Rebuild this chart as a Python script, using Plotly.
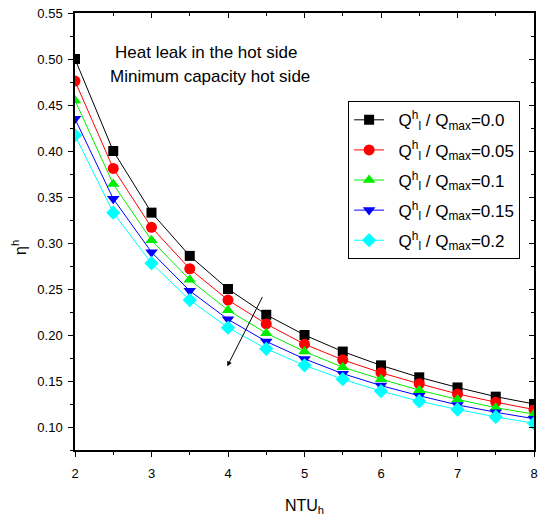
import plotly.graph_objects as go

ntu = [2, 2.5, 3, 3.5, 4, 4.5, 5, 5.5, 6, 6.5, 7, 7.5, 8]
eta_00 = [0.500, 0.400, 0.333, 0.286, 0.250, 0.222, 0.200, 0.182, 0.167, 0.154, 0.143, 0.133, 0.125]
eta_05 = [0.476, 0.381, 0.317, 0.272, 0.238, 0.212, 0.190, 0.173, 0.159, 0.147, 0.136, 0.127, 0.119]
eta_10 = [0.455, 0.364, 0.303, 0.260, 0.227, 0.202, 0.182, 0.165, 0.152, 0.140, 0.130, 0.121, 0.114]
eta_15 = [0.435, 0.348, 0.290, 0.248, 0.217, 0.193, 0.174, 0.158, 0.145, 0.134, 0.124, 0.116, 0.109]
eta_20 = [0.417, 0.333, 0.278, 0.238, 0.208, 0.185, 0.167, 0.152, 0.139, 0.128, 0.119, 0.111, 0.104]
ratios = ["0.0", "0.05", "0.1", "0.15", "0.2"]

series = [eta_00, eta_05, eta_10, eta_15, eta_20]
colors = ["#000000", "#ff0000", "#00ee00", "#0000ff", "#00ffff"]
symbols = ["square", "circle", "triangle-up", "triangle-down", "diamond"]
sizes = [10, 11, 11, 11, 11]

NB = "\u00a0"

fig = go.Figure()
for i, (vals, r, c, s, sz) in enumerate(zip(series, ratios, colors, symbols, sizes)):
    fig.add_trace(go.Scatter(
        x=ntu, y=vals, mode="lines+markers",
        name=NB * 2 + "Q<sup>h</sup><sub>l</sub> / Q<sub>max</sub>=" + r,
        legendgroup="g%d" % i,
        line=dict(color=c, width=1),
        marker=dict(symbol=s, size=sz, color=c, line=dict(width=0)),
    ))

# mirrored axes with inward ticks
fig.add_trace(go.Scatter(x=[None], y=[None], xaxis="x2", yaxis="y2",
                         showlegend=False, hoverinfo="skip"))

fam = "Liberation Sans, Arial, sans-serif"
font = dict(family=fam, size=13, color="#000000")

fig.update_layout(
    width=538, height=516,
    margin=dict(l=75, r=4, t=13, b=66),
    plot_bgcolor="white", paper_bgcolor="white",
    font=font,
    showlegend=True,
    legend=dict(
        x=0.595, y=0.798, xanchor="left", yanchor="top",
        bordercolor="#000000", borderwidth=1, bgcolor="white",
        font=dict(family=fam, size=17, color="#000000"),
        tracegroupgap=5, itemwidth=30,
    ),
    xaxis=dict(
        range=[2, 8], tick0=2, dtick=1, ticks="outside", ticklen=5, tickwidth=1,
        tickcolor="black", showline=True, linecolor="black", linewidth=1.5,
        showgrid=False, zeroline=False, automargin=False, ticklabelstandoff=6,
        ticklabeloverflow="allow",
        minor=dict(dtick=0.5, ticks="outside", ticklen=3, tickcolor="black"),
        title=dict(text="NTU<sub>h</sub>", font=dict(size=16), standoff=21),
        tickfont=dict(size=13),
    ),
    yaxis=dict(
        range=[0.075, 0.55], tick0=0.1, dtick=0.05, ticks="outside", ticklen=5,
        tickwidth=1, tickcolor="black", showline=True, linecolor="black",
        linewidth=1.5, showgrid=False, zeroline=False, tickformat=".2f",
        automargin=False, ticklabelstandoff=3, ticklabeloverflow="allow",
        minor=dict(dtick=0.025, ticks="outside", ticklen=3, tickcolor="black"),
        tickfont=dict(size=13),
    ),
    xaxis2=dict(
        overlaying="x", side="top", range=[2, 8], tick0=2, dtick=1,
        ticks="inside", ticklen=5, tickcolor="black", showticklabels=False,
        showline=True, linecolor="black", linewidth=1.5, showgrid=False,
        zeroline=False, automargin=False,
        minor=dict(dtick=0.5, ticks="inside", ticklen=3, tickcolor="black"),
    ),
    yaxis2=dict(
        overlaying="y", side="right", range=[0.075, 0.55], tick0=0.1, dtick=0.05,
        ticks="inside", ticklen=5, tickcolor="black", showticklabels=False,
        showline=True, linecolor="black", linewidth=1.5, showgrid=False,
        zeroline=False, automargin=False,
        minor=dict(dtick=0.025, ticks="inside", ticklen=3, tickcolor="black"),
    ),
)

# y-axis title placed as rotated annotation
fig.add_annotation(x=-0.122, y=0.2946, xref="paper", yref="y",
                   text="η<sup>h</sup>", textangle=-90, showarrow=False,
                   font=dict(size=16), xanchor="center", yanchor="middle")

fig.add_annotation(x=0.285, y=0.5075, xref="paper", yref="y",
                   text="Heat leak in the hot side", showarrow=False,
                   font=dict(size=17), xanchor="center", yanchor="middle")
fig.add_annotation(x=0.295, y=0.4805, xref="paper", yref="y",
                   text="Minimum capacity hot side", showarrow=False,
                   font=dict(size=17), xanchor="center", yanchor="middle")
fig.add_annotation(x=3.99, y=0.166, ax=4.46, ay=0.243,
                   xref="x", yref="y", axref="x", ayref="y",
                   showarrow=True, arrowhead=2, arrowsize=1, arrowwidth=1,
                   arrowcolor="black", text="")

fig.write_html(
    "out.html",
    config={"displayModeBar": False},
    post_script="document.body.style.margin='0';document.body.style.overflow='hidden';",
)
